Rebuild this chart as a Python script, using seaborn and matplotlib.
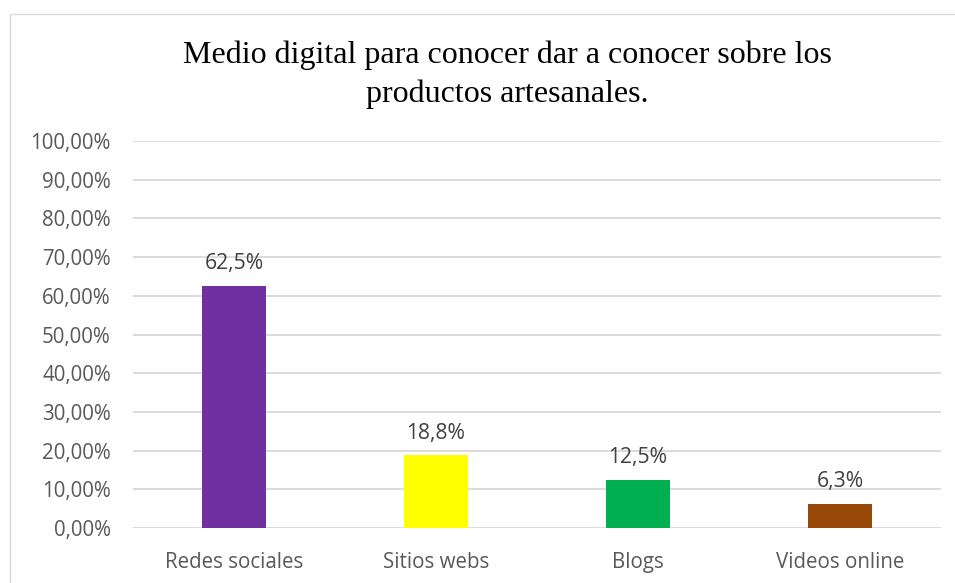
import matplotlib
matplotlib.use("Agg")
import matplotlib.pyplot as plt
import seaborn as sns
import pandas as pd
from matplotlib.patches import Rectangle
from matplotlib.ticker import FuncFormatter

categorias = ["Redes sociales", "Sitios webs", "Blogs", "Videos online"]
porcentajes = [62.5, 18.8, 12.5, 6.3]
etiquetas = ["62,5%", "18,8%", "12,5%", "6,3%"]
colores = ["#7030A0", "#FFFF00", "#00B050", "#984807"]
titulo_1 = "Medio digital para conocer dar a conocer sobre los"
titulo_2 = "productos artesanales."

df = pd.DataFrame({"categoria": categorias, "valor": porcentajes})

sns.set_theme(style="white")
plt.rcParams["font.family"] = ["Open Sans", "DejaVu Sans"]

W, H = 955, 583
fig = plt.figure(figsize=(W / 100, H / 100), dpi=100)
fig.patch.set_facecolor("white")

# chart frame
fig.patches.append(Rectangle((9.5 / W, -0.1), 2, 1 - 14.5 / H + 0.1,
                             transform=fig.transFigure, fill=False,
                             edgecolor="#D9D9D9", linewidth=1.0))

ax = fig.add_axes([133 / W, 1 - 528 / H, (941 - 133) / W, (528 - 141) / H])
sns.barplot(data=df, x="categoria", y="valor", hue="categoria",
            palette=colores, width=0.317, legend=False, ax=ax,
            saturation=1, edgecolor="none")

ax.set_ylim(0, 100)
ax.set_xlim(-0.5, len(categorias) - 0.5)
ax.set_yticks(range(0, 101, 10))
ax.yaxis.set_major_formatter(FuncFormatter(lambda v, p: f"{v:.2f}%".replace(".", ",")))
ax.grid(axis="y", color="#D9D9D9", linewidth=1.3)
ax.set_axisbelow(True)
for s in ax.spines.values():
    s.set_visible(False)
ax.set_xlabel("")
ax.set_ylabel("")
ax.tick_params(axis="both", length=0, labelsize=14.8, labelcolor="#595959")
ax.tick_params(axis="y", pad=16)
ax.tick_params(axis="x", pad=17)

for i, (v, t) in enumerate(zip(porcentajes, etiquetas)):
    ax.annotate(t, (i, v), xytext=(0, 12), textcoords="offset points",
                ha="center", va="baseline", fontsize=15.2, color="#404040")

fig.text(507 / W, 1 - 63 / H, titulo_1, ha="center", va="baseline",
         family="Liberation Serif", fontsize=23, color="black")
fig.text(507 / W, 1 - 101.7 / H, titulo_2, ha="center", va="baseline",
         family="Liberation Serif", fontsize=23, color="black")

fig.savefig("out.png", dpi=100)
